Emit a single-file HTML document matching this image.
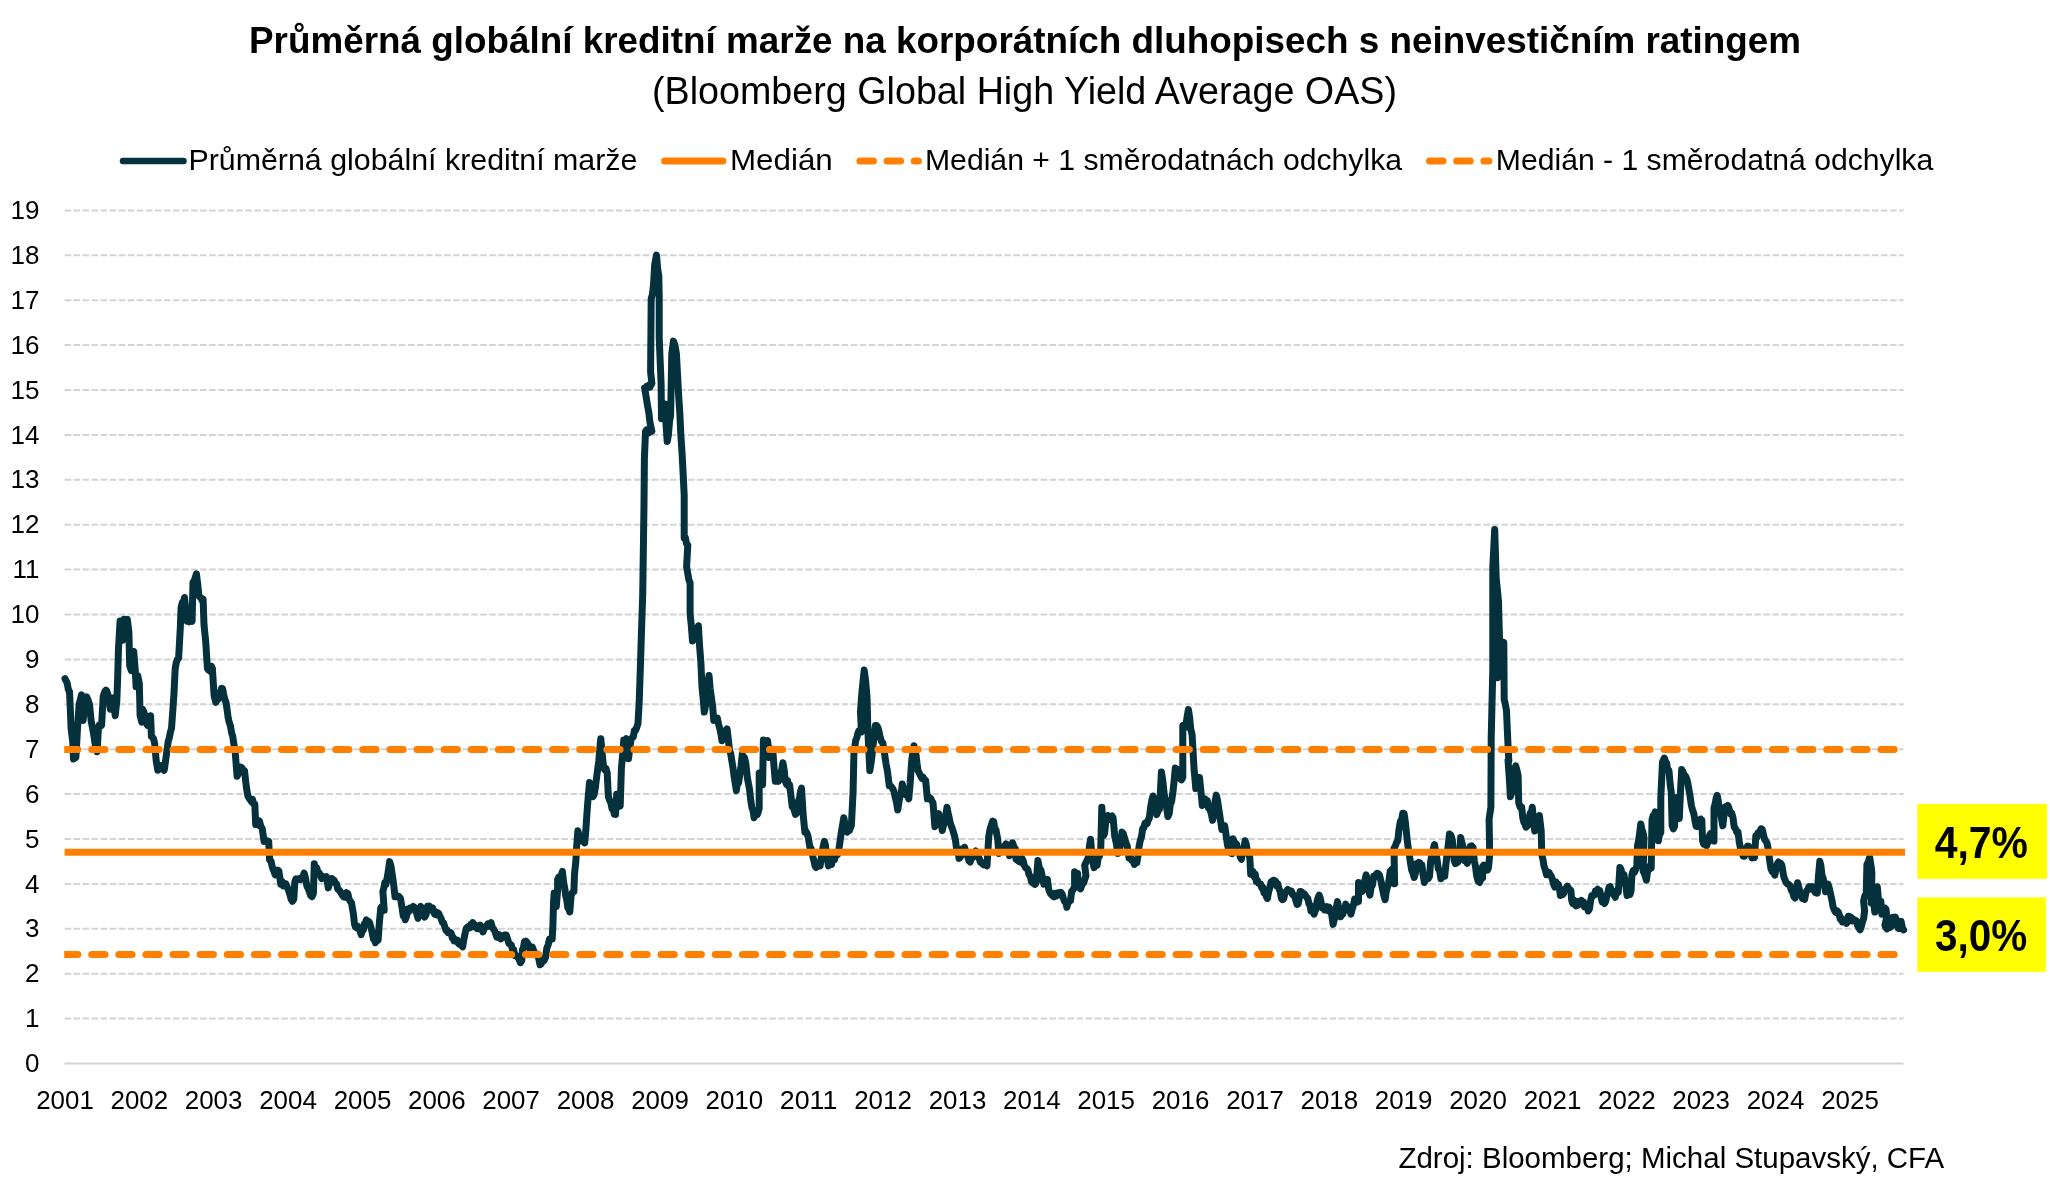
<!DOCTYPE html><html><head><meta charset="utf-8"><style>html,body{margin:0;padding:0;background:#fff;width:2050px;height:1183px;overflow:hidden}svg{display:block;will-change:transform}</style></head><body><svg width="2050" height="1183" viewBox="0 0 2050 1183"><rect width="2050" height="1183" fill="#fff"/><text x="249" y="53.3" font-family="&quot;Liberation Sans&quot;, sans-serif" font-weight="bold" font-size="37.8" textLength="1552" lengthAdjust="spacingAndGlyphs">Průměrná globální kreditní marže na korporátních dluhopisech s neinvestičním ratingem</text><text x="652" y="104.2" font-family="&quot;Liberation Sans&quot;, sans-serif" font-size="38.5" textLength="745" lengthAdjust="spacingAndGlyphs">(Bloomberg Global High Yield Average OAS)</text><line x1="123" y1="161" x2="183.5" y2="161" stroke="#04313c" stroke-width="6.5" stroke-linecap="round"/><text x="188.4" y="170" font-family="&quot;Liberation Sans&quot;, sans-serif" font-size="29" textLength="449" lengthAdjust="spacingAndGlyphs">Průměrná globální kreditní marže</text><line x1="664.6" y1="161" x2="722.9" y2="161" stroke="#ff8000" stroke-width="7" stroke-linecap="round"/><text x="730" y="170" font-family="&quot;Liberation Sans&quot;, sans-serif" font-size="29" textLength="102.8" lengthAdjust="spacingAndGlyphs">Medián</text><line x1="859.9" y1="161" x2="918.4" y2="161" stroke="#ff8000" stroke-width="7" stroke-linecap="round" stroke-dasharray="13.5 13.7"/><line x1="1429.5" y1="161" x2="1488.9" y2="161" stroke="#ff8000" stroke-width="7" stroke-linecap="round" stroke-dasharray="13.5 13.7"/><text x="925" y="170" font-family="&quot;Liberation Sans&quot;, sans-serif" font-size="29" textLength="477" lengthAdjust="spacingAndGlyphs">Medián + 1 směrodatnách odchylka</text><text x="1495.8" y="170" font-family="&quot;Liberation Sans&quot;, sans-serif" font-size="29" textLength="437.4" lengthAdjust="spacingAndGlyphs">Medián - 1 směrodatná odchylka</text><line x1="64.5" y1="1018.6" x2="1903.6" y2="1018.6" stroke="#d4d4d4" stroke-width="2" stroke-dasharray="6.6 2.437"/><line x1="64.5" y1="973.7" x2="1903.6" y2="973.7" stroke="#d4d4d4" stroke-width="2" stroke-dasharray="6.6 2.437"/><line x1="64.5" y1="928.8" x2="1903.6" y2="928.8" stroke="#d4d4d4" stroke-width="2" stroke-dasharray="6.6 2.437"/><line x1="64.5" y1="883.9" x2="1903.6" y2="883.9" stroke="#d4d4d4" stroke-width="2" stroke-dasharray="6.6 2.437"/><line x1="64.5" y1="839.0" x2="1903.6" y2="839.0" stroke="#d4d4d4" stroke-width="2" stroke-dasharray="6.6 2.437"/><line x1="64.5" y1="794.1" x2="1903.6" y2="794.1" stroke="#d4d4d4" stroke-width="2" stroke-dasharray="6.6 2.437"/><line x1="64.5" y1="749.2" x2="1903.6" y2="749.2" stroke="#d4d4d4" stroke-width="2" stroke-dasharray="6.6 2.437"/><line x1="64.5" y1="704.3" x2="1903.6" y2="704.3" stroke="#d4d4d4" stroke-width="2" stroke-dasharray="6.6 2.437"/><line x1="64.5" y1="659.4" x2="1903.6" y2="659.4" stroke="#d4d4d4" stroke-width="2" stroke-dasharray="6.6 2.437"/><line x1="64.5" y1="614.5" x2="1903.6" y2="614.5" stroke="#d4d4d4" stroke-width="2" stroke-dasharray="6.6 2.437"/><line x1="64.5" y1="569.6" x2="1903.6" y2="569.6" stroke="#d4d4d4" stroke-width="2" stroke-dasharray="6.6 2.437"/><line x1="64.5" y1="524.7" x2="1903.6" y2="524.7" stroke="#d4d4d4" stroke-width="2" stroke-dasharray="6.6 2.437"/><line x1="64.5" y1="479.8" x2="1903.6" y2="479.8" stroke="#d4d4d4" stroke-width="2" stroke-dasharray="6.6 2.437"/><line x1="64.5" y1="434.9" x2="1903.6" y2="434.9" stroke="#d4d4d4" stroke-width="2" stroke-dasharray="6.6 2.437"/><line x1="64.5" y1="390.0" x2="1903.6" y2="390.0" stroke="#d4d4d4" stroke-width="2" stroke-dasharray="6.6 2.437"/><line x1="64.5" y1="345.1" x2="1903.6" y2="345.1" stroke="#d4d4d4" stroke-width="2" stroke-dasharray="6.6 2.437"/><line x1="64.5" y1="300.2" x2="1903.6" y2="300.2" stroke="#d4d4d4" stroke-width="2" stroke-dasharray="6.6 2.437"/><line x1="64.5" y1="255.3" x2="1903.6" y2="255.3" stroke="#d4d4d4" stroke-width="2" stroke-dasharray="6.6 2.437"/><line x1="64.5" y1="210.4" x2="1903.6" y2="210.4" stroke="#d4d4d4" stroke-width="2" stroke-dasharray="6.6 2.437"/><line x1="64.5" y1="1063.5" x2="1903.6" y2="1063.5" stroke="#d4d4d4" stroke-width="2"/><text x="39.5" y="1072.1" font-family="&quot;Liberation Sans&quot;, sans-serif" font-size="26" text-anchor="end">0</text><text x="39.5" y="1027.2" font-family="&quot;Liberation Sans&quot;, sans-serif" font-size="26" text-anchor="end">1</text><text x="39.5" y="982.3" font-family="&quot;Liberation Sans&quot;, sans-serif" font-size="26" text-anchor="end">2</text><text x="39.5" y="937.4" font-family="&quot;Liberation Sans&quot;, sans-serif" font-size="26" text-anchor="end">3</text><text x="39.5" y="892.5" font-family="&quot;Liberation Sans&quot;, sans-serif" font-size="26" text-anchor="end">4</text><text x="39.5" y="847.6" font-family="&quot;Liberation Sans&quot;, sans-serif" font-size="26" text-anchor="end">5</text><text x="39.5" y="802.7" font-family="&quot;Liberation Sans&quot;, sans-serif" font-size="26" text-anchor="end">6</text><text x="39.5" y="757.8" font-family="&quot;Liberation Sans&quot;, sans-serif" font-size="26" text-anchor="end">7</text><text x="39.5" y="712.9" font-family="&quot;Liberation Sans&quot;, sans-serif" font-size="26" text-anchor="end">8</text><text x="39.5" y="668.0" font-family="&quot;Liberation Sans&quot;, sans-serif" font-size="26" text-anchor="end">9</text><text x="39.5" y="623.1" font-family="&quot;Liberation Sans&quot;, sans-serif" font-size="26" text-anchor="end">10</text><text x="39.5" y="578.2" font-family="&quot;Liberation Sans&quot;, sans-serif" font-size="26" text-anchor="end">11</text><text x="39.5" y="533.3" font-family="&quot;Liberation Sans&quot;, sans-serif" font-size="26" text-anchor="end">12</text><text x="39.5" y="488.4" font-family="&quot;Liberation Sans&quot;, sans-serif" font-size="26" text-anchor="end">13</text><text x="39.5" y="443.5" font-family="&quot;Liberation Sans&quot;, sans-serif" font-size="26" text-anchor="end">14</text><text x="39.5" y="398.6" font-family="&quot;Liberation Sans&quot;, sans-serif" font-size="26" text-anchor="end">15</text><text x="39.5" y="353.7" font-family="&quot;Liberation Sans&quot;, sans-serif" font-size="26" text-anchor="end">16</text><text x="39.5" y="308.8" font-family="&quot;Liberation Sans&quot;, sans-serif" font-size="26" text-anchor="end">17</text><text x="39.5" y="263.9" font-family="&quot;Liberation Sans&quot;, sans-serif" font-size="26" text-anchor="end">18</text><text x="39.5" y="219.0" font-family="&quot;Liberation Sans&quot;, sans-serif" font-size="26" text-anchor="end">19</text><text x="65.0" y="1108.7" font-family="&quot;Liberation Sans&quot;, sans-serif" font-size="26" text-anchor="middle" textLength="57.6" lengthAdjust="spacingAndGlyphs">2001</text><text x="139.3" y="1108.7" font-family="&quot;Liberation Sans&quot;, sans-serif" font-size="26" text-anchor="middle" textLength="57.6" lengthAdjust="spacingAndGlyphs">2002</text><text x="213.6" y="1108.7" font-family="&quot;Liberation Sans&quot;, sans-serif" font-size="26" text-anchor="middle" textLength="57.6" lengthAdjust="spacingAndGlyphs">2003</text><text x="288.0" y="1108.7" font-family="&quot;Liberation Sans&quot;, sans-serif" font-size="26" text-anchor="middle" textLength="57.6" lengthAdjust="spacingAndGlyphs">2004</text><text x="362.5" y="1108.7" font-family="&quot;Liberation Sans&quot;, sans-serif" font-size="26" text-anchor="middle" textLength="57.6" lengthAdjust="spacingAndGlyphs">2005</text><text x="436.8" y="1108.7" font-family="&quot;Liberation Sans&quot;, sans-serif" font-size="26" text-anchor="middle" textLength="57.6" lengthAdjust="spacingAndGlyphs">2006</text><text x="511.1" y="1108.7" font-family="&quot;Liberation Sans&quot;, sans-serif" font-size="26" text-anchor="middle" textLength="57.6" lengthAdjust="spacingAndGlyphs">2007</text><text x="585.5" y="1108.7" font-family="&quot;Liberation Sans&quot;, sans-serif" font-size="26" text-anchor="middle" textLength="57.6" lengthAdjust="spacingAndGlyphs">2008</text><text x="660.0" y="1108.7" font-family="&quot;Liberation Sans&quot;, sans-serif" font-size="26" text-anchor="middle" textLength="57.6" lengthAdjust="spacingAndGlyphs">2009</text><text x="734.3" y="1108.7" font-family="&quot;Liberation Sans&quot;, sans-serif" font-size="26" text-anchor="middle" textLength="57.6" lengthAdjust="spacingAndGlyphs">2010</text><text x="808.6" y="1108.7" font-family="&quot;Liberation Sans&quot;, sans-serif" font-size="26" text-anchor="middle" textLength="57.6" lengthAdjust="spacingAndGlyphs">2011</text><text x="883.0" y="1108.7" font-family="&quot;Liberation Sans&quot;, sans-serif" font-size="26" text-anchor="middle" textLength="57.6" lengthAdjust="spacingAndGlyphs">2012</text><text x="957.5" y="1108.7" font-family="&quot;Liberation Sans&quot;, sans-serif" font-size="26" text-anchor="middle" textLength="57.6" lengthAdjust="spacingAndGlyphs">2013</text><text x="1031.8" y="1108.7" font-family="&quot;Liberation Sans&quot;, sans-serif" font-size="26" text-anchor="middle" textLength="57.6" lengthAdjust="spacingAndGlyphs">2014</text><text x="1106.1" y="1108.7" font-family="&quot;Liberation Sans&quot;, sans-serif" font-size="26" text-anchor="middle" textLength="57.6" lengthAdjust="spacingAndGlyphs">2015</text><text x="1180.5" y="1108.7" font-family="&quot;Liberation Sans&quot;, sans-serif" font-size="26" text-anchor="middle" textLength="57.6" lengthAdjust="spacingAndGlyphs">2016</text><text x="1255.0" y="1108.7" font-family="&quot;Liberation Sans&quot;, sans-serif" font-size="26" text-anchor="middle" textLength="57.6" lengthAdjust="spacingAndGlyphs">2017</text><text x="1329.3" y="1108.7" font-family="&quot;Liberation Sans&quot;, sans-serif" font-size="26" text-anchor="middle" textLength="57.6" lengthAdjust="spacingAndGlyphs">2018</text><text x="1403.6" y="1108.7" font-family="&quot;Liberation Sans&quot;, sans-serif" font-size="26" text-anchor="middle" textLength="57.6" lengthAdjust="spacingAndGlyphs">2019</text><text x="1478.0" y="1108.7" font-family="&quot;Liberation Sans&quot;, sans-serif" font-size="26" text-anchor="middle" textLength="57.6" lengthAdjust="spacingAndGlyphs">2020</text><text x="1552.5" y="1108.7" font-family="&quot;Liberation Sans&quot;, sans-serif" font-size="26" text-anchor="middle" textLength="57.6" lengthAdjust="spacingAndGlyphs">2021</text><text x="1626.8" y="1108.7" font-family="&quot;Liberation Sans&quot;, sans-serif" font-size="26" text-anchor="middle" textLength="57.6" lengthAdjust="spacingAndGlyphs">2022</text><text x="1701.1" y="1108.7" font-family="&quot;Liberation Sans&quot;, sans-serif" font-size="26" text-anchor="middle" textLength="57.6" lengthAdjust="spacingAndGlyphs">2023</text><text x="1775.5" y="1108.7" font-family="&quot;Liberation Sans&quot;, sans-serif" font-size="26" text-anchor="middle" textLength="57.6" lengthAdjust="spacingAndGlyphs">2024</text><text x="1850.0" y="1108.7" font-family="&quot;Liberation Sans&quot;, sans-serif" font-size="26" text-anchor="middle" textLength="57.6" lengthAdjust="spacingAndGlyphs">2025</text><path d="M65.0,678.7 L66.1,680.9 L67.2,683.0 L68.3,689.3 L69.5,691.6 L70.3,709.2 L71.1,728.5 L72.7,741.4 L73.5,759.0 L74.7,755.7 L75.9,757.4 L77.5,728.5 L79.1,704.4 L80.3,699.8 L81.5,694.8 L83.1,720.5 L84.3,709.2 L85.5,699.6 L86.7,696.9 L87.9,699.6 L89.5,704.4 L91.1,720.5 L92.3,726.9 L93.5,733.3 L95.2,744.6 L97.1,751.8 L98.4,728.5 L99.4,724.7 L100.5,726.0 L101.6,725.3 L103.2,696.4 L104.8,691.6 L105.9,690.1 L106.9,691.3 L108.0,694.8 L109.2,701.6 L110.4,709.2 L111.6,705.6 L112.8,698.0 L114.0,704.6 L115.2,715.7 L116.8,701.2 L117.7,677.1 L118.5,648.2 L120.1,620.9 L121.3,628.9 L122.5,640.2 L124.1,619.3 L125.2,620.0 L126.2,622.0 L127.3,619.3 L128.9,632.1 L129.7,665.9 L131.3,670.7 L132.5,661.5 L133.7,651.4 L135.3,670.7 L136.1,686.8 L137.7,675.5 L139.3,683.5 L140.1,715.7 L141.8,722.1 L142.6,709.2 L143.8,711.8 L145.0,715.7 L146.2,723.3 L147.4,725.3 L148.4,719.4 L149.5,721.0 L150.6,715.7 L151.4,736.5 L152.5,737.4 L153.5,738.7 L154.6,743.0 L156.2,760.6 L157.8,770.3 L158.9,766.4 L160.0,765.9 L161.0,765.5 L162.1,769.0 L163.2,766.8 L164.2,770.3 L165.4,761.9 L166.7,752.6 L168.2,741.4 L169.3,737.9 L170.4,732.0 L171.5,728.5 L172.7,711.9 L173.9,694.8 L175.2,668.5 L176.3,662.5 L177.5,659.1 L178.6,658.4 L180.3,628.0 L181.1,607.6 L182.3,602.5 L183.4,602.0 L184.5,597.5 L185.8,608.9 L187.1,621.2 L188.1,620.1 L189.1,621.7 L190.1,620.9 L191.1,620.0 L192.1,621.2 L193.0,582.3 L194.1,581.2 L195.2,577.8 L196.4,573.8 L197.6,583.3 L198.9,595.8 L200.0,597.1 L201.0,597.7 L202.1,600.6 L203.1,599.2 L204.0,624.6 L205.7,641.5 L207.4,668.5 L208.4,669.9 L209.4,667.3 L210.4,671.4 L211.4,666.2 L212.4,668.5 L214.1,695.6 L215.8,702.4 L216.9,699.6 L218.1,699.4 L219.2,693.5 L220.3,693.3 L221.5,688.3 L222.6,688.8 L223.7,694.4 L224.8,699.4 L226.0,702.4 L227.1,709.6 L228.2,718.1 L229.3,722.7 L230.5,726.1 L231.6,732.9 L232.7,736.2 L233.4,740.9 L235.2,752.1 L237.1,776.3 L238.3,773.7 L239.6,770.6 L240.8,767.0 L242.1,768.0 L243.3,771.5 L244.5,770.7 L246.4,787.4 L247.8,795.7 L249.2,798.6 L250.3,799.6 L251.4,801.8 L252.5,799.3 L253.7,804.3 L254.8,804.2 L255.7,824.6 L256.9,824.3 L258.2,825.1 L259.4,820.9 L260.8,826.6 L262.2,828.4 L264.1,841.4 L265.2,840.1 L266.4,840.7 L267.6,842.4 L268.7,841.4 L269.6,860.0 L271.0,860.9 L272.4,867.4 L273.8,870.9 L275.2,874.9 L276.5,871.6 L277.7,870.1 L278.9,871.2 L280.8,884.2 L282.1,881.5 L283.3,885.8 L284.5,884.2 L285.8,883.8 L287.0,886.4 L288.3,889.8 L289.7,893.8 L291.1,899.1 L292.4,901.3 L293.8,899.1 L294.8,882.3 L295.9,878.9 L297.1,880.2 L298.3,879.8 L299.4,878.6 L300.6,879.5 L301.7,877.7 L302.9,876.6 L304.1,873.0 L305.5,878.2 L306.9,886.0 L308.1,888.6 L309.3,891.4 L310.6,895.4 L312.0,896.7 L313.4,893.5 L314.3,863.7 L315.5,869.6 L316.8,867.8 L318.0,873.0 L319.3,872.9 L320.5,875.1 L321.7,878.6 L322.9,876.5 L324.1,877.6 L325.2,877.7 L326.4,876.7 L328.3,887.9 L329.5,883.4 L330.7,878.7 L332.0,878.6 L333.1,879.5 L334.3,880.6 L335.5,883.2 L336.6,884.2 L337.8,889.2 L339.0,890.0 L340.1,891.3 L341.3,893.5 L342.5,895.4 L343.8,897.0 L345.0,897.2 L346.4,892.7 L347.8,893.5 L349.0,899.0 L350.3,901.4 L351.5,902.8 L353.4,914.0 L354.5,923.9 L355.5,927.1 L356.5,927.7 L357.5,926.2 L358.5,927.9 L359.9,930.7 L361.2,934.7 L362.2,929.6 L363.3,930.1 L364.3,923.9 L365.3,923.9 L366.3,919.9 L367.3,921.1 L368.4,921.2 L369.6,922.7 L370.7,926.6 L372.0,931.7 L373.4,938.7 L374.4,938.1 L375.4,942.8 L376.8,938.4 L378.1,940.1 L379.5,921.1 L380.8,907.6 L382.0,906.4 L383.1,907.0 L384.2,910.3 L382.9,891.4 L383.9,887.5 L384.9,882.5 L385.9,884.5 L386.9,879.2 L388.3,871.1 L389.6,861.6 L391.0,866.3 L392.3,875.2 L393.7,884.6 L395.0,896.8 L396.4,895.3 L397.8,896.8 L399.1,896.6 L400.4,898.2 L401.8,906.1 L403.2,915.7 L404.2,915.5 L405.2,919.8 L406.5,916.5 L407.9,909.0 L409.0,911.5 L410.1,907.9 L411.3,907.6 L412.3,908.2 L413.3,906.5 L414.3,907.3 L415.3,910.3 L416.7,913.4 L418.0,918.4 L419.4,910.9 L420.7,906.3 L421.8,910.9 L422.8,909.6 L423.8,911.5 L424.8,917.1 L426.1,914.4 L427.5,906.3 L428.5,907.5 L429.5,906.2 L430.5,909.6 L431.6,910.3 L432.6,907.8 L433.6,911.2 L434.6,914.2 L435.6,911.7 L436.6,914.9 L437.6,914.9 L438.7,913.3 L439.7,915.7 L441.0,918.3 L442.4,922.5 L443.7,923.2 L445.1,927.9 L446.1,930.6 L447.1,930.1 L448.1,932.6 L449.1,932.0 L450.2,932.3 L451.2,933.0 L452.2,937.9 L453.2,937.4 L454.2,941.0 L455.2,940.8 L456.2,941.2 L457.2,940.1 L458.3,943.3 L459.4,944.2 L460.5,942.5 L461.6,945.6 L462.7,946.8 L464.0,938.5 L465.4,932.0 L466.4,928.1 L467.4,927.1 L468.4,927.6 L469.4,927.9 L470.6,924.7 L471.7,925.5 L472.8,922.5 L473.9,926.6 L475.1,924.9 L476.2,926.6 L477.2,928.8 L478.2,928.8 L479.2,928.3 L480.2,925.2 L481.6,927.8 L482.9,932.0 L484.0,928.9 L485.0,927.6 L486.0,926.1 L487.0,926.6 L488.0,923.8 L489.0,925.3 L490.0,925.9 L491.1,922.5 L492.4,927.9 L493.8,929.3 L494.8,931.2 L495.8,934.2 L496.8,937.1 L497.8,937.4 L498.9,934.5 L499.9,937.7 L500.9,938.8 L501.9,937.7 L503.0,937.2 L504.0,935.2 L505.0,935.0 L506.3,935.1 L507.6,939.0 L508.9,943.5 L510.3,944.4 L511.4,945.2 L512.5,949.8 L513.7,949.8 L514.7,955.4 L515.7,955.2 L516.8,956.0 L518.0,957.4 L519.1,959.3 L520.4,962.7 L521.8,960.6 L522.5,949.8 L523.5,947.1 L524.5,941.7 L525.7,941.1 L526.9,942.2 L528.0,943.7 L529.2,947.1 L530.2,950.2 L531.2,950.3 L532.3,947.0 L533.3,949.8 L534.3,952.8 L535.3,954.7 L536.3,953.8 L537.3,953.9 L538.7,958.4 L540.0,964.7 L541.1,964.0 L542.1,960.5 L543.1,958.8 L544.1,960.6 L545.5,957.4 L546.8,948.5 L548.2,944.6 L549.5,939.0 L550.9,939.2 L552.2,939.0 L552.9,925.5 L553.6,901.1 L554.2,893.0 L555.3,902.4 L556.3,906.6 L557.6,890.3 L557.6,879.5 L558.8,877.1 L560.0,877.7 L561.2,875.4 L562.4,871.4 L563.7,883.6 L564.7,887.9 L565.7,895.7 L566.8,900.3 L567.8,907.9 L568.8,908.7 L569.8,912.0 L571.1,895.7 L572.5,892.2 L573.9,891.7 L574.5,874.1 L575.9,860.6 L576.6,847.0 L577.9,830.8 L579.3,836.1 L580.6,840.3 L581.6,839.5 L582.6,841.2 L583.7,840.1 L584.7,843.0 L585.9,829.4 L587.1,810.9 L588.3,795.8 L589.5,782.5 L590.7,787.0 L591.8,792.5 L593.0,796.7 L594.2,794.4 L595.4,787.2 L596.6,777.3 L597.8,768.3 L598.8,760.9 L599.8,748.6 L600.8,738.7 L602.2,753.7 L603.7,768.3 L604.9,770.0 L606.0,768.6 L607.2,773.0 L608.4,796.7 L609.6,800.3 L610.8,802.7 L612.0,808.5 L613.1,807.5 L614.3,814.3 L615.5,814.4 L616.7,794.3 L617.9,796.3 L619.1,802.0 L620.2,806.1 L621.4,768.3 L622.6,755.4 L623.8,739.9 L625.0,740.2 L626.2,738.8 L627.3,739.9 L628.5,758.8 L629.7,749.5 L630.9,739.9 L632.1,737.8 L633.3,736.9 L634.4,730.4 L635.6,730.4 L636.8,727.2 L638.0,723.3 L639.2,702.0 L640.4,666.5 L641.5,631.0 L642.7,595.5 L644.0,504.3 L644.4,458.7 L645.5,431.3 L646.6,429.8 L647.7,430.0 L648.7,432.9 L649.8,431.3 L650.9,431.7 L651.9,431.3 L650.9,426.7 L649.8,421.4 L648.8,412.4 L647.8,407.2 L646.7,400.4 L645.7,394.2 L644.6,387.9 L645.7,388.4 L646.7,386.3 L647.8,386.2 L648.8,385.2 L649.8,387.3 L650.9,385.2 L651.9,383.4 L650.6,372.0 L651.2,298.9 L652.4,294.3 L653.5,285.2 L654.7,264.7 L656.5,255.1 L657.6,268.2 L658.8,276.1 L659.2,296.6 L659.2,337.7 L661.1,383.4 L661.5,418.8 L662.7,412.4 L663.8,409.2 L665.0,403.9 L666.1,425.4 L667.2,441.6 L668.4,434.9 L669.5,421.9 L670.6,415.3 L671.8,353.7 L673.4,341.1 L674.9,345.1 L676.4,353.7 L677.5,373.9 L678.6,394.8 L679.8,412.8 L680.9,435.9 L682.1,453.7 L683.2,474.7 L684.2,495.5 L684.2,538.1 L685.4,537.9 L686.6,543.9 L687.8,545.2 L686.6,566.5 L687.8,573.7 L688.9,579.9 L690.1,583.1 L690.1,613.9 L691.3,625.4 L692.5,641.1 L693.7,639.3 L694.9,635.9 L696.0,629.7 L697.2,631.1 L698.4,625.7 L699.6,646.2 L700.8,661.2 L702.0,687.2 L703.1,698.0 L704.3,712.1 L705.5,705.6 L706.7,693.1 L707.9,684.5 L709.0,675.4 L710.2,688.6 L711.4,697.9 L712.6,706.1 L713.8,720.4 L715.0,717.5 L716.2,718.4 L717.3,718.0 L718.5,723.8 L719.7,728.4 L720.8,733.2 L722.0,740.7 L723.0,737.3 L724.0,737.3 L725.0,730.8 L726.0,731.6 L727.1,728.9 L728.3,739.5 L729.6,750.9 L730.7,753.6 L731.9,761.2 L733.0,767.8 L734.1,776.2 L735.2,783.1 L736.4,790.6 L737.5,782.7 L738.6,782.8 L739.8,774.6 L741.0,766.2 L742.3,754.3 L743.4,759.9 L744.5,757.5 L745.7,762.7 L747.4,778.0 L748.5,783.9 L749.6,789.8 L750.7,799.9 L751.9,807.5 L753.0,810.4 L754.1,817.7 L755.1,813.6 L756.2,813.5 L757.2,814.6 L758.2,812.2 L759.2,808.4 L759.2,772.9 L760.3,775.4 L761.5,778.7 L762.6,784.7 L763.4,739.9 L764.5,742.6 L765.5,740.7 L766.6,741.7 L767.6,740.7 L769.3,757.6 L770.5,752.4 L771.6,749.4 L772.7,749.2 L774.0,766.4 L775.3,781.3 L776.3,780.0 L777.4,777.1 L778.4,781.4 L779.5,778.0 L780.6,773.7 L781.8,769.6 L782.9,762.7 L784.1,769.5 L785.4,781.3 L786.5,784.3 L787.5,780.4 L788.6,786.0 L789.6,784.7 L790.9,795.4 L792.2,806.7 L793.2,807.4 L794.3,810.4 L795.4,814.3 L796.4,813.5 L797.4,807.0 L798.4,801.1 L799.5,798.4 L800.5,791.6 L801.5,788.1 L803.2,815.2 L804.9,832.1 L806.0,831.4 L807.1,833.4 L808.2,837.1 L809.9,847.3 L811.0,848.3 L812.0,852.9 L813.0,857.3 L814.0,861.0 L815.0,865.9 L816.0,867.5 L817.0,864.6 L818.1,865.9 L819.1,864.0 L820.1,865.9 L821.1,858.8 L822.2,850.7 L823.3,846.0 L824.3,841.4 L825.4,844.6 L826.4,855.0 L827.5,860.1 L828.5,865.9 L829.6,862.7 L830.6,863.0 L831.6,864.4 L832.6,858.1 L833.6,859.1 L834.6,859.4 L835.6,855.3 L836.7,854.0 L837.7,854.4 L838.7,850.7 L840.4,838.8 L841.5,831.2 L842.6,824.8 L843.8,817.7 L844.9,823.6 L846.0,830.2 L847.1,832.1 L848.2,829.4 L849.3,830.7 L850.3,828.2 L851.4,825.3 L853.1,791.5 L853.9,754.3 L855.6,740.7 L856.7,738.2 L857.9,733.4 L859.0,730.6 L860.2,730.3 L861.4,731.9 L860.5,711.4 L861.7,695.0 L863.0,681.6 L864.2,670.1 L865.6,680.7 L867.0,696.5 L867.9,731.9 L869.8,770.6 L871.2,762.0 L872.6,750.5 L874.0,736.4 L875.4,725.4 L876.6,725.5 L877.8,727.2 L879.1,731.9 L880.3,737.6 L881.5,741.5 L882.8,743.0 L884.6,754.2 L886.0,763.6 L887.4,770.9 L889.3,785.8 L890.5,785.9 L891.6,787.1 L892.8,788.8 L894.0,791.4 L895.2,797.4 L896.4,801.7 L897.7,810.0 L898.8,803.2 L900.0,795.6 L901.2,793.2 L902.3,784.0 L903.6,790.5 L904.8,791.7 L906.0,795.1 L907.4,795.4 L908.8,798.8 L910.2,783.0 L911.6,761.6 L912.8,752.6 L914.0,745.8 L915.1,751.2 L916.1,755.4 L917.1,763.9 L918.1,770.9 L919.4,773.3 L920.6,775.9 L921.9,778.4 L923.1,777.2 L924.3,779.6 L925.6,780.2 L927.4,798.8 L928.6,796.6 L929.7,798.9 L930.8,798.6 L931.9,801.2 L933.0,802.6 L934.9,826.7 L936.1,819.7 L937.4,815.2 L938.6,813.7 L939.8,818.1 L941.1,823.3 L942.3,830.5 L943.5,825.2 L944.7,819.0 L945.8,814.5 L947.0,807.2 L948.1,813.0 L949.3,818.3 L950.5,824.1 L951.6,826.7 L952.9,830.4 L954.1,834.4 L955.4,839.8 L956.6,848.9 L957.8,850.1 L959.1,858.4 L960.2,857.5 L961.3,854.8 L962.4,848.9 L963.5,851.5 L964.6,847.2 L965.8,852.5 L966.9,853.9 L968.0,857.5 L969.1,861.0 L970.2,862.1 L971.3,857.7 L972.5,857.8 L973.6,855.4 L974.7,855.2 L975.8,850.9 L976.9,855.0 L978.0,857.4 L979.2,858.1 L980.3,862.2 L981.4,862.1 L982.5,863.9 L983.6,864.7 L984.7,862.7 L985.9,862.3 L987.0,865.8 L988.8,836.0 L990.1,828.9 L991.3,825.3 L992.6,821.2 L993.7,821.6 L994.8,828.9 L995.9,829.7 L997.7,839.2 L998.9,853.4 L1000.4,850.8 L1001.8,847.5 L1002.9,847.3 L1003.9,846.4 L1004.9,845.9 L1006.0,843.9 L1007.2,847.8 L1008.3,848.8 L1009.5,855.7 L1011.0,851.0 L1012.5,842.7 L1014.0,847.2 L1015.4,848.6 L1016.0,859.3 L1017.2,860.1 L1018.4,861.1 L1019.6,861.7 L1020.8,862.2 L1022.0,858.3 L1023.1,860.5 L1024.3,865.4 L1025.5,867.6 L1026.7,868.4 L1027.9,869.8 L1029.0,874.7 L1030.2,876.0 L1031.4,881.6 L1032.6,883.0 L1033.8,881.2 L1035.0,884.4 L1036.2,883.0 L1037.9,860.5 L1039.4,868.1 L1040.9,869.9 L1042.4,877.0 L1043.8,884.1 L1045.0,881.9 L1046.2,880.9 L1047.4,879.4 L1048.6,888.9 L1049.6,891.8 L1050.7,894.0 L1051.7,894.9 L1052.7,896.0 L1053.9,896.8 L1055.1,893.4 L1056.3,896.0 L1057.5,893.0 L1058.6,892.7 L1059.8,894.8 L1061.0,892.4 L1062.2,894.2 L1063.4,898.3 L1064.6,901.7 L1065.7,901.3 L1066.9,907.2 L1068.1,902.4 L1069.3,901.5 L1070.5,900.7 L1071.7,891.2 L1073.1,889.9 L1074.6,886.5 L1074.6,871.7 L1076.1,873.8 L1077.6,873.5 L1078.2,884.1 L1079.3,887.6 L1080.5,888.9 L1082.0,884.7 L1083.5,883.0 L1084.7,879.5 L1085.9,875.9 L1084.7,865.2 L1085.9,862.6 L1087.0,860.3 L1088.2,858.1 L1089.4,846.4 L1090.6,839.2 L1091.8,853.4 L1093.0,862.8 L1094.1,867.6 L1095.6,864.6 L1097.1,865.2 L1098.3,856.9 L1099.5,856.2 L1100.7,849.8 L1101.8,807.2 L1103.6,835.6 L1104.6,833.2 L1105.7,822.7 L1106.7,820.3 L1107.8,815.5 L1108.8,817.9 L1109.9,819.3 L1110.9,816.6 L1112.0,816.0 L1113.1,817.9 L1114.8,836.8 L1116.3,843.3 L1117.8,853.4 L1119.0,852.5 L1120.2,846.3 L1122.0,832.1 L1123.4,833.9 L1124.9,839.2 L1126.1,843.2 L1127.3,846.3 L1129.0,858.1 L1130.5,857.1 L1132.0,860.5 L1133.2,861.2 L1134.4,864.4 L1135.6,860.0 L1136.8,862.8 L1137.9,856.5 L1139.1,846.3 L1140.3,840.4 L1141.5,836.8 L1142.7,828.5 L1143.8,827.8 L1145.0,823.0 L1146.2,822.6 L1147.2,823.6 L1148.3,819.7 L1149.3,818.4 L1150.5,808.1 L1151.8,800.5 L1153.0,796.0 L1154.3,802.2 L1155.5,808.2 L1156.7,814.6 L1158.1,810.7 L1159.5,809.1 L1161.4,771.9 L1162.8,780.9 L1164.2,794.2 L1165.4,800.7 L1166.7,808.0 L1167.9,816.5 L1169.2,813.6 L1170.4,803.6 L1171.6,801.6 L1172.9,792.0 L1174.1,781.3 L1175.3,768.1 L1176.6,769.0 L1177.8,776.9 L1179.1,777.4 L1180.3,778.7 L1181.5,779.8 L1182.8,777.4 L1182.8,725.4 L1184.2,725.0 L1185.6,727.2 L1187.0,717.6 L1188.4,709.5 L1189.6,717.3 L1190.8,729.3 L1192.1,734.6 L1194.0,768.1 L1195.8,788.6 L1197.0,785.4 L1198.3,780.3 L1199.5,777.4 L1200.9,791.0 L1202.3,805.4 L1203.6,802.1 L1204.8,798.9 L1206.0,799.8 L1207.3,800.5 L1208.5,808.0 L1209.8,809.1 L1211.2,813.4 L1212.6,820.2 L1213.8,814.5 L1215.0,802.0 L1216.3,795.1 L1217.7,801.6 L1219.1,810.9 L1220.5,820.3 L1221.9,829.5 L1223.3,825.8 L1224.7,825.8 L1226.0,834.4 L1227.4,844.4 L1228.6,849.5 L1229.8,851.4 L1230.9,853.3 L1232.1,853.7 L1233.0,838.8 L1234.3,841.5 L1235.5,845.0 L1236.7,844.4 L1237.9,850.8 L1239.1,852.2 L1240.2,856.9 L1241.4,859.3 L1242.6,850.4 L1243.9,848.3 L1245.1,840.7 L1246.3,844.6 L1247.4,850.6 L1248.6,854.1 L1249.8,857.4 L1250.7,874.2 L1251.9,872.9 L1253.0,871.5 L1254.2,876.8 L1255.3,874.2 L1256.3,881.6 L1257.4,880.3 L1258.5,883.3 L1259.5,883.5 L1260.6,884.1 L1261.7,887.7 L1262.8,887.2 L1264.0,892.9 L1265.1,891.4 L1266.3,896.5 L1267.4,898.4 L1268.7,891.6 L1269.9,887.6 L1271.2,881.6 L1272.2,881.3 L1273.3,880.3 L1274.4,880.5 L1275.5,881.1 L1276.6,885.6 L1277.7,883.5 L1278.9,888.4 L1280.2,891.7 L1281.4,898.4 L1282.5,899.7 L1283.5,899.2 L1284.6,894.9 L1285.7,892.0 L1286.7,891.2 L1287.8,889.5 L1288.8,890.9 L1290.1,891.2 L1291.3,891.0 L1292.6,894.6 L1293.7,894.9 L1294.8,896.9 L1295.9,900.6 L1297.0,904.4 L1298.1,904.0 L1299.1,899.2 L1300.1,891.4 L1301.2,891.7 L1302.2,892.4 L1303.2,893.9 L1304.2,893.7 L1305.2,895.2 L1306.5,897.2 L1307.8,898.5 L1309.0,904.1 L1310.0,904.8 L1311.0,911.0 L1312.1,907.9 L1313.1,912.2 L1314.1,914.2 L1315.1,911.2 L1316.1,908.8 L1317.1,901.1 L1318.1,897.7 L1319.2,895.2 L1320.2,897.9 L1321.3,903.1 L1322.3,907.9 L1323.4,907.3 L1324.5,910.0 L1325.7,909.0 L1326.8,906.6 L1328.0,910.6 L1329.3,907.2 L1330.6,911.7 L1331.8,915.2 L1333.1,924.4 L1334.2,919.9 L1335.3,915.4 L1336.4,907.1 L1337.5,901.6 L1338.6,907.2 L1339.7,908.7 L1340.7,916.8 L1341.7,913.6 L1342.7,914.3 L1343.8,911.1 L1344.8,908.8 L1345.8,904.1 L1346.8,909.0 L1347.8,906.7 L1348.8,907.8 L1349.8,910.1 L1350.9,914.2 L1352.1,909.3 L1353.4,905.2 L1354.7,899.0 L1355.9,902.5 L1357.2,902.1 L1358.5,901.6 L1358.5,882.5 L1359.7,886.4 L1361.0,890.1 L1362.3,891.4 L1363.5,885.7 L1364.8,880.7 L1366.1,874.9 L1367.3,878.9 L1368.6,890.2 L1369.9,895.2 L1371.1,887.3 L1372.4,885.1 L1373.7,876.2 L1374.8,876.8 L1376.0,874.5 L1377.1,873.2 L1378.2,873.7 L1379.4,874.9 L1381.3,882.5 L1382.5,889.1 L1383.8,895.2 L1385.1,899.7 L1386.1,892.5 L1387.2,887.4 L1388.3,885.1 L1390.2,871.1 L1391.4,870.0 L1392.7,868.6 L1394.6,883.8 L1394.0,848.3 L1395.2,846.3 L1396.5,842.6 L1397.8,840.7 L1399.0,829.5 L1400.3,821.7 L1401.6,819.6 L1402.8,813.3 L1404.1,813.5 L1405.4,822.7 L1406.6,834.4 L1407.9,845.8 L1409.2,853.8 L1410.4,862.3 L1411.7,870.1 L1413.0,873.3 L1414.2,877.5 L1415.5,872.8 L1416.8,863.5 L1417.8,863.6 L1418.8,862.4 L1419.8,862.8 L1420.8,867.3 L1421.8,864.8 L1423.1,874.9 L1424.4,882.5 L1425.4,880.1 L1426.4,877.1 L1427.4,878.7 L1428.4,878.5 L1429.5,876.2 L1430.7,861.0 L1432.0,855.0 L1433.3,848.6 L1434.5,844.5 L1435.8,853.1 L1437.1,859.7 L1438.3,868.6 L1439.6,870.8 L1440.9,878.8 L1442.1,875.1 L1443.4,876.1 L1444.7,876.2 L1445.9,864.3 L1447.2,853.4 L1448.3,844.8 L1449.5,834.0 L1451.0,835.4 L1452.4,840.5 L1454.2,860.6 L1455.4,863.6 L1456.6,863.0 L1458.0,862.0 L1459.5,858.2 L1460.7,837.5 L1461.9,842.6 L1463.1,847.6 L1464.8,860.6 L1466.0,858.8 L1467.2,863.4 L1468.4,860.6 L1470.2,846.4 L1471.7,845.9 L1473.1,847.6 L1474.3,860.6 L1475.5,866.5 L1476.7,876.0 L1478.2,881.2 L1479.6,882.5 L1481.1,878.8 L1482.6,878.3 L1482.6,866.5 L1483.8,865.1 L1485.0,868.5 L1486.2,866.0 L1487.3,870.2 L1488.5,867.7 L1489.7,854.7 L1489.1,819.2 L1490.9,807.3 L1491.2,738.3 L1492.8,669.8 L1492.8,567.1 L1494.7,529.4 L1496.2,578.5 L1497.4,589.9 L1498.5,601.3 L1499.7,647.0 L1498.5,660.5 L1497.4,677.8 L1498.5,670.2 L1499.5,665.5 L1500.6,661.1 L1501.7,656.9 L1502.7,646.2 L1503.8,642.4 L1504.2,699.5 L1505.4,704.5 L1506.5,710.9 L1507.7,738.3 L1508.8,761.1 L1508.0,760.0 L1509.2,776.6 L1510.4,796.7 L1511.5,793.4 L1512.5,782.2 L1513.6,775.5 L1514.7,769.4 L1515.7,765.9 L1516.9,770.0 L1518.1,775.4 L1518.7,802.6 L1520.2,807.4 L1521.7,807.3 L1522.8,818.0 L1523.9,822.4 L1524.9,823.5 L1525.9,827.2 L1527.0,826.3 L1528.0,825.1 L1529.1,817.7 L1530.2,813.0 L1531.2,813.7 L1532.3,807.3 L1533.5,820.7 L1534.7,831.0 L1535.9,824.4 L1537.0,824.3 L1538.2,818.7 L1539.4,815.6 L1541.2,831.0 L1541.8,854.7 L1543.0,859.8 L1544.1,866.5 L1545.3,869.6 L1546.5,874.8 L1547.7,873.1 L1548.9,872.4 L1550.1,874.4 L1551.2,876.0 L1552.4,879.2 L1553.6,884.3 L1554.8,887.0 L1556.0,882.0 L1557.2,887.0 L1558.3,884.3 L1559.4,888.1 L1560.4,895.5 L1561.6,893.2 L1562.7,894.5 L1563.8,893.1 L1564.9,889.3 L1566.1,888.2 L1567.3,886.1 L1568.5,889.3 L1569.7,889.3 L1570.9,890.6 L1571.7,900.3 L1572.8,903.6 L1573.8,900.0 L1574.9,901.9 L1576.0,905.9 L1577.0,901.5 L1578.1,905.1 L1579.2,903.0 L1580.3,903.8 L1581.3,900.3 L1582.4,904.0 L1583.5,901.8 L1584.5,906.7 L1585.7,904.5 L1586.9,905.3 L1588.2,911.0 L1589.4,909.1 L1590.6,900.8 L1591.8,895.5 L1593.0,895.7 L1594.2,895.4 L1595.4,890.9 L1596.6,890.6 L1597.7,889.3 L1598.7,893.4 L1599.8,890.6 L1601.0,897.0 L1602.2,901.9 L1603.4,901.3 L1604.6,903.5 L1605.7,901.4 L1606.9,895.6 L1608.0,892.0 L1609.1,887.0 L1610.2,886.6 L1611.2,890.4 L1612.2,893.5 L1613.3,894.1 L1614.3,895.5 L1615.3,897.3 L1616.3,891.0 L1617.3,891.5 L1618.3,892.2 L1619.9,867.4 L1620.9,869.0 L1621.9,873.7 L1622.9,875.5 L1623.9,874.6 L1625.0,880.9 L1626.0,887.0 L1627.1,895.5 L1628.1,893.8 L1629.1,893.0 L1630.1,894.4 L1631.1,890.6 L1631.9,874.6 L1633.1,870.7 L1634.3,872.4 L1635.5,870.0 L1636.8,866.5 L1637.5,845.7 L1638.6,840.4 L1639.7,832.8 L1640.8,824.0 L1641.8,829.2 L1642.9,832.0 L1644.0,837.6 L1643.2,871.4 L1644.2,873.2 L1645.3,876.4 L1646.4,880.2 L1648.0,868.1 L1649.1,869.8 L1650.1,865.6 L1651.2,868.1 L1652.0,820.0 L1653.1,815.5 L1654.2,816.1 L1655.2,811.9 L1656.3,820.1 L1657.4,828.6 L1658.4,840.8 L1659.6,834.0 L1660.8,832.8 L1660.8,797.5 L1662.5,762.1 L1664.4,758.1 L1665.5,761.4 L1666.6,763.1 L1667.8,770.0 L1668.9,770.2 L1670.1,783.7 L1671.3,792.6 L1672.1,825.6 L1673.3,828.9 L1674.5,826.4 L1675.7,810.5 L1676.9,797.5 L1678.1,805.4 L1679.3,818.4 L1680.5,791.4 L1681.7,769.4 L1682.9,771.6 L1684.1,775.0 L1685.3,775.7 L1686.5,778.2 L1687.6,782.0 L1688.7,788.4 L1689.8,794.3 L1691.4,805.5 L1692.6,810.2 L1693.8,813.5 L1695.0,821.0 L1696.2,826.4 L1697.3,826.6 L1698.4,825.9 L1699.6,823.5 L1700.7,819.0 L1701.8,820.0 L1702.6,840.8 L1703.6,844.1 L1704.6,842.0 L1705.6,844.9 L1706.6,845.7 L1705.2,841.3 L1703.8,838.5 L1705.1,841.6 L1706.3,840.0 L1707.6,843.5 L1708.7,838.6 L1709.7,835.2 L1710.8,833.4 L1711.8,833.8 L1712.9,840.8 L1714.0,841.0 L1714.0,808.0 L1715.0,804.3 L1716.1,798.5 L1717.1,795.4 L1718.2,800.2 L1719.2,809.3 L1720.3,811.8 L1721.6,818.9 L1722.8,825.8 L1724.1,814.7 L1725.4,806.8 L1726.6,808.0 L1727.9,805.5 L1729.2,809.0 L1730.4,813.5 L1731.7,813.1 L1733.0,817.7 L1734.2,827.0 L1735.5,828.6 L1736.8,832.3 L1738.0,832.1 L1739.3,842.3 L1740.6,848.7 L1741.8,851.1 L1743.1,856.2 L1744.4,856.2 L1745.4,850.1 L1746.5,848.2 L1747.5,846.1 L1748.6,846.3 L1749.7,849.3 L1750.7,853.7 L1752.0,857.8 L1753.2,856.7 L1754.5,857.5 L1755.8,835.9 L1756.8,837.3 L1757.9,832.8 L1758.9,834.6 L1760.0,831.0 L1761.1,828.7 L1762.1,829.0 L1763.4,834.6 L1764.7,839.7 L1765.9,841.0 L1767.2,843.7 L1768.5,851.1 L1769.7,860.6 L1771.0,868.9 L1772.3,871.7 L1773.5,871.4 L1774.8,875.2 L1776.1,868.7 L1777.3,863.8 L1778.4,862.0 L1779.6,862.7 L1780.7,863.3 L1781.8,865.1 L1783.7,876.5 L1784.9,879.6 L1786.2,882.5 L1787.5,884.1 L1788.7,884.4 L1790.0,885.4 L1791.3,890.4 L1792.5,891.9 L1793.8,896.6 L1795.1,898.0 L1796.4,888.6 L1797.6,882.8 L1798.9,887.4 L1800.2,894.2 L1801.3,893.7 L1802.4,898.6 L1803.5,898.3 L1804.6,899.3 L1805.7,893.5 L1806.8,890.6 L1807.9,889.2 L1809.0,886.6 L1810.0,887.7 L1811.1,889.0 L1812.1,886.5 L1813.1,887.7 L1814.1,890.4 L1815.2,892.5 L1816.2,891.6 L1817.3,893.0 L1818.5,875.8 L1819.8,861.3 L1820.9,865.6 L1821.9,875.0 L1823.0,877.8 L1824.2,883.6 L1825.5,891.7 L1826.8,888.3 L1828.0,884.1 L1829.3,888.3 L1830.6,894.2 L1831.9,900.1 L1833.1,906.9 L1834.4,910.4 L1835.7,912.4 L1836.9,910.7 L1838.3,912.1 L1839.3,914.9 L1840.3,919.2 L1841.3,918.1 L1842.3,922.0 L1843.3,921.3 L1844.3,920.2 L1845.4,919.7 L1846.4,923.3 L1847.4,922.2 L1848.4,916.2 L1849.4,916.4 L1850.4,919.3 L1851.4,917.5 L1852.5,920.9 L1853.5,919.2 L1854.5,920.5 L1855.5,920.3 L1856.5,920.9 L1857.5,925.3 L1858.8,927.9 L1860.1,929.9 L1861.3,926.4 L1862.6,921.3 L1863.6,918.7 L1864.6,911.1 L1863.6,901.0 L1864.9,895.5 L1866.2,894.9 L1866.9,864.5 L1868.3,861.7 L1869.7,857.4 L1870.8,864.2 L1871.9,872.6 L1871.2,903.0 L1872.7,894.9 L1873.8,903.6 L1874.8,912.1 L1876.0,897.4 L1877.3,886.8 L1878.8,903.0 L1879.8,900.7 L1880.8,901.0 L1881.9,914.2 L1882.9,913.0 L1883.9,914.2 L1884.9,908.0 L1885.9,909.1 L1886.9,916.2 L1885.9,920.7 L1884.9,925.3 L1885.9,927.6 L1886.9,928.9 L1888.0,924.7 L1889.0,924.7 L1890.0,927.4 L1891.0,926.6 L1892.0,923.5 L1893.0,917.2 L1894.2,918.5 L1895.4,917.2 L1896.6,921.3 L1898.1,928.4 L1899.1,928.6 L1900.1,923.0 L1901.1,921.3 L1902.4,928.0 L1903.7,929.9" fill="none" stroke="#04313c" stroke-width="7" stroke-linejoin="round" stroke-linecap="round"/><clipPath id="pc"><rect x="64.2" y="180" width="1841" height="900"/></clipPath><g clip-path="url(#pc)"><line x1="64.5" y1="852.3" x2="1905" y2="852.3" stroke="#ff8000" stroke-width="7"/><line x1="64.59" y1="749.5" x2="1903" y2="749.5" stroke="#ff8000" stroke-width="7" stroke-linecap="round" stroke-dasharray="13.3 13.81"/><line x1="64.59" y1="954.5" x2="1903" y2="954.5" stroke="#ff8000" stroke-width="7" stroke-linecap="round" stroke-dasharray="13.3 13.81"/></g><rect x="1917.3" y="803.9" width="129.8" height="74.9" fill="#ffff00"/><rect x="1917.3" y="897.4" width="128.5" height="74.4" fill="#ffff00"/><text x="1934.7" y="858.2" font-family="&quot;Liberation Sans&quot;, sans-serif" font-weight="bold" font-size="44.5" textLength="93.3" lengthAdjust="spacingAndGlyphs">4,7%</text><text x="1935" y="950.7" font-family="&quot;Liberation Sans&quot;, sans-serif" font-weight="bold" font-size="44.5" textLength="92.2" lengthAdjust="spacingAndGlyphs">3,0%</text><text x="1398.4" y="1168.2" font-family="&quot;Liberation Sans&quot;, sans-serif" font-size="28.8" textLength="545.8" lengthAdjust="spacingAndGlyphs">Zdroj: Bloomberg; Michal Stupavský, CFA</text></svg></body></html>
